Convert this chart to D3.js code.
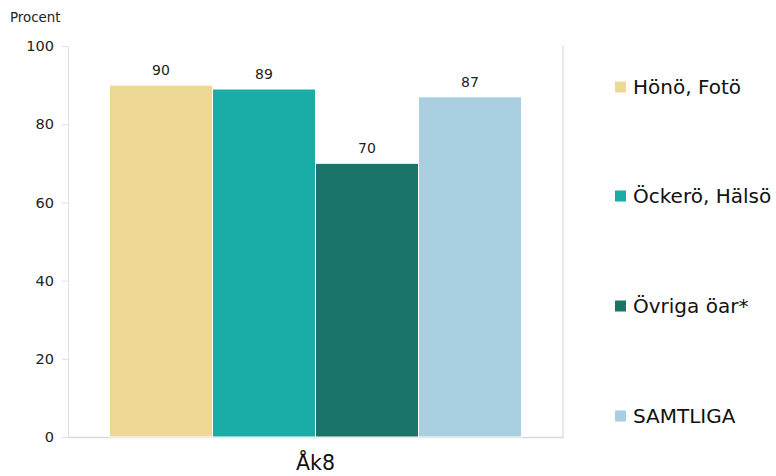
<!DOCTYPE html>
<html><head><meta charset="utf-8">
<script src="https://cdn.jsdelivr.net/npm/d3@7"></script>
<style>body{margin:0;background:#fff;font-family:"DejaVu Sans",sans-serif;}</style>
</head><body>
<svg id="c" width="776" height="476"></svg>
<script>
const categories = ["Åk8"];
const seriesNames = ["Hönö, Fotö", "Öckerö, Hälsö", "Övriga öar*", "SAMTLIGA"];
const seriesValues = [90, 89, 70, 87];
const colors = ["#EDD895", "#1AACA6", "#1B7468", "#A9CFE0"];
const yTicks = [0, 20, 40, 60, 80, 100];

const FONT = "DejaVu Sans, sans-serif";
const svg = d3.select("#c").attr("font-family", FONT);
const m = {l: 68, r: 213, t: 46, b: 39};
const W = 776, H = 476;
const x0 = d3.scaleBand().domain(categories).range([m.l, W - m.r]).paddingInner(0).paddingOuter(0.1007);
const x1 = d3.scaleBand().domain(seriesNames).range([0, x0.bandwidth()]).padding(0);
const y = d3.scaleLinear().domain([0, 100]).range([H - m.b, m.t]);

svg.append("text").attr("x", 10).attr("y", 22).attr("font-size", 13.4).attr("fill", "#222").text("Procent");

// right border line of plot area
svg.append("line").attr("x1", W - m.r).attr("x2", W - m.r).attr("y1", m.t).attr("y2", H - m.b)
  .attr("stroke", "#e0e0e0").attr("stroke-width", 1.5);

const ya = svg.append("g").attr("transform", `translate(${m.l},0)`)
  .call(d3.axisLeft(y).tickValues(yTicks).tickSize(6).tickPadding(8));
ya.select(".domain").attr("stroke", "#e0e0e0");
ya.selectAll(".tick line").attr("stroke", "#e0e0e0");
ya.selectAll(".tick text").attr("font-size", 14.5).attr("fill", "#222").attr("font-family", FONT);

const xa = svg.append("g").attr("transform", `translate(0,${H - m.b})`)
  .call(d3.axisBottom(x0).tickSize(0).tickPadding(10));
xa.select(".domain").attr("stroke", "#d9d9d9").attr("stroke-width", 1.5);
xa.selectAll(".tick text").attr("font-size", 20.5).attr("fill", "#111").attr("y", 33).attr("dy", 0).attr("font-family", FONT);

const g = svg.append("g");
categories.forEach(cat => {
  seriesNames.forEach((s, i) => {
    const v = seriesValues[i];
    const bx = x0(cat) + x1(s);
    g.append("rect").attr("x", bx).attr("y", y(v)).attr("width", x1.bandwidth()).attr("height", y(0) - y(v))
      .attr("fill", colors[i]).attr("stroke", "#fff").attr("stroke-width", 1);
    g.append("text").attr("x", bx + x1.bandwidth() / 2).attr("y", y(v) - 10).attr("text-anchor", "middle")
      .attr("font-size", 14).attr("fill", "#222").text(v);
  });
});

const leg = svg.append("g");
const legY = [87, 196, 306, 416];
seriesNames.forEach((s, i) => {
  leg.append("rect").attr("x", 615).attr("y", legY[i] - 5.5).attr("width", 11).attr("height", 11).attr("fill", colors[i]);
  leg.append("text").attr("x", 633).attr("y", legY[i]).attr("dy", "0.35em").attr("font-size", 20).attr("fill", "#111").text(s);
});
</script>
</body></html>
